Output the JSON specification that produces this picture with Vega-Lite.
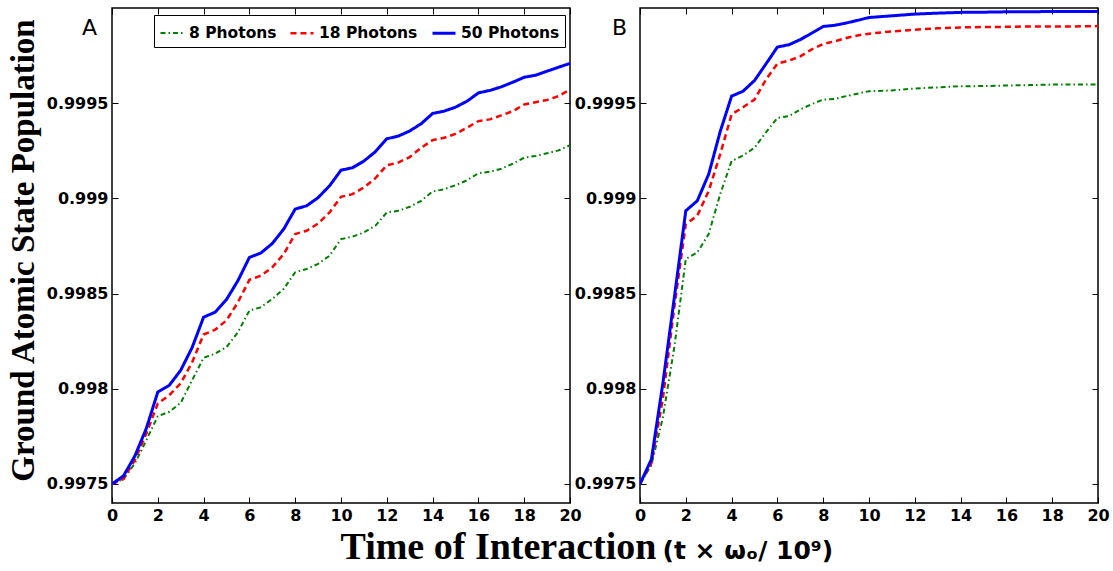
{
  "$schema": "https://vega.github.io/schema/vega-lite/v6.json",
  "background": "white",
  "padding": {"left": 6, "top": 6, "right": 5, "bottom": 5},
  "spacing": 70,
  "bounds": "flush",
  "config": {
    "font": "DejaVu Sans",
    "view": {"stroke": "black", "strokeWidth": 1.5},
    "axis": {"domain": false, "grid": false, "ticks": true, "tickColor": "black", "tickSize": -6, "tickWidth": 1, "labelFont": "DejaVu Sans", "labelFontWeight": "bold", "labelFontSize": 16, "labelColor": "black", "labelPadding": 10, "labelFlush": false, "labelOverlap": false, "titleColor": "black"}
  },
  "resolve": {"scale": {"color": "independent", "strokeDash": "independent", "strokeWidth": "independent"}},
  "datasets": {
    "A": [
      {"time":0,"pop":0.9975,"series":"8 Photons"},{"time":0.5,"pop":0.997525,"series":"8 Photons"},{"time":1,"pop":0.997608,"series":"8 Photons"},{"time":1.5,"pop":0.99773,"series":"8 Photons"},{"time":2,"pop":0.997856,"series":"8 Photons"},{"time":2.5,"pop":0.997879,"series":"8 Photons"},{"time":3,"pop":0.997926,"series":"8 Photons"},{"time":3.5,"pop":0.998045,"series":"8 Photons"},{"time":4,"pop":0.998163,"series":"8 Photons"},{"time":4.5,"pop":0.998184,"series":"8 Photons"},{"time":5,"pop":0.998219,"series":"8 Photons"},{"time":5.5,"pop":0.998297,"series":"8 Photons"},{"time":6,"pop":0.998411,"series":"8 Photons"},{"time":6.5,"pop":0.998428,"series":"8 Photons"},{"time":7,"pop":0.998472,"series":"8 Photons"},{"time":7.5,"pop":0.998525,"series":"8 Photons"},{"time":8,"pop":0.998612,"series":"8 Photons"},{"time":8.5,"pop":0.998629,"series":"8 Photons"},{"time":9,"pop":0.998656,"series":"8 Photons"},{"time":9.5,"pop":0.998699,"series":"8 Photons"},{"time":10,"pop":0.998786,"series":"8 Photons"},{"time":10.5,"pop":0.998799,"series":"8 Photons"},{"time":11,"pop":0.998821,"series":"8 Photons"},{"time":11.5,"pop":0.998856,"series":"8 Photons"},{"time":12,"pop":0.998926,"series":"8 Photons"},{"time":12.5,"pop":0.998935,"series":"8 Photons"},{"time":13,"pop":0.998956,"series":"8 Photons"},{"time":13.5,"pop":0.998987,"series":"8 Photons"},{"time":14,"pop":0.999036,"series":"8 Photons"},{"time":14.5,"pop":0.999048,"series":"8 Photons"},{"time":15,"pop":0.999069,"series":"8 Photons"},{"time":15.5,"pop":0.999095,"series":"8 Photons"},{"time":16,"pop":0.999132,"series":"8 Photons"},{"time":16.5,"pop":0.99914,"series":"8 Photons"},{"time":17,"pop":0.999156,"series":"8 Photons"},{"time":17.5,"pop":0.999182,"series":"8 Photons"},{"time":18,"pop":0.999214,"series":"8 Photons"},{"time":18.5,"pop":0.999223,"series":"8 Photons"},{"time":19,"pop":0.999237,"series":"8 Photons"},{"time":19.5,"pop":0.999252,"series":"8 Photons"},{"time":20,"pop":0.999279,"series":"8 Photons"},
      {"time":0,"pop":0.9975,"series":"18 Photons"},{"time":0.5,"pop":0.997526,"series":"18 Photons"},{"time":1,"pop":0.997626,"series":"18 Photons"},{"time":1.5,"pop":0.997765,"series":"18 Photons"},{"time":2,"pop":0.997923,"series":"18 Photons"},{"time":2.5,"pop":0.997966,"series":"18 Photons"},{"time":3,"pop":0.998029,"series":"18 Photons"},{"time":3.5,"pop":0.998139,"series":"18 Photons"},{"time":4,"pop":0.998285,"series":"18 Photons"},{"time":4.5,"pop":0.99831,"series":"18 Photons"},{"time":5,"pop":0.998359,"series":"18 Photons"},{"time":5.5,"pop":0.998455,"series":"18 Photons"},{"time":6,"pop":0.998572,"series":"18 Photons"},{"time":6.5,"pop":0.998594,"series":"18 Photons"},{"time":7,"pop":0.998638,"series":"18 Photons"},{"time":7.5,"pop":0.998708,"series":"18 Photons"},{"time":8,"pop":0.998813,"series":"18 Photons"},{"time":8.5,"pop":0.99883,"series":"18 Photons"},{"time":9,"pop":0.998868,"series":"18 Photons"},{"time":9.5,"pop":0.998926,"series":"18 Photons"},{"time":10,"pop":0.999008,"series":"18 Photons"},{"time":10.5,"pop":0.999022,"series":"18 Photons"},{"time":11,"pop":0.999057,"series":"18 Photons"},{"time":11.5,"pop":0.999106,"series":"18 Photons"},{"time":12,"pop":0.999174,"series":"18 Photons"},{"time":12.5,"pop":0.999188,"series":"18 Photons"},{"time":13,"pop":0.999217,"series":"18 Photons"},{"time":13.5,"pop":0.999266,"series":"18 Photons"},{"time":14,"pop":0.999306,"series":"18 Photons"},{"time":14.5,"pop":0.999318,"series":"18 Photons"},{"time":15,"pop":0.999339,"series":"18 Photons"},{"time":15.5,"pop":0.999371,"series":"18 Photons"},{"time":16,"pop":0.999406,"series":"18 Photons"},{"time":16.5,"pop":0.999415,"series":"18 Photons"},{"time":17,"pop":0.999436,"series":"18 Photons"},{"time":17.5,"pop":0.999458,"series":"18 Photons"},{"time":18,"pop":0.999493,"series":"18 Photons"},{"time":18.5,"pop":0.999505,"series":"18 Photons"},{"time":19,"pop":0.999517,"series":"18 Photons"},{"time":19.5,"pop":0.999537,"series":"18 Photons"},{"time":20,"pop":0.999572,"series":"18 Photons"},
      {"time":0,"pop":0.9975,"series":"50 Photons"},{"time":0.5,"pop":0.997542,"series":"50 Photons"},{"time":1,"pop":0.997647,"series":"50 Photons"},{"time":1.5,"pop":0.997792,"series":"50 Photons"},{"time":2,"pop":0.997983,"series":"50 Photons"},{"time":2.5,"pop":0.998018,"series":"50 Photons"},{"time":3,"pop":0.998097,"series":"50 Photons"},{"time":3.5,"pop":0.998217,"series":"50 Photons"},{"time":4,"pop":0.998376,"series":"50 Photons"},{"time":4.5,"pop":0.998402,"series":"50 Photons"},{"time":5,"pop":0.998469,"series":"50 Photons"},{"time":5.5,"pop":0.998568,"series":"50 Photons"},{"time":6,"pop":0.99869,"series":"50 Photons"},{"time":6.5,"pop":0.998713,"series":"50 Photons"},{"time":7,"pop":0.998763,"series":"50 Photons"},{"time":7.5,"pop":0.998839,"series":"50 Photons"},{"time":8,"pop":0.998944,"series":"50 Photons"},{"time":8.5,"pop":0.998961,"series":"50 Photons"},{"time":9,"pop":0.999004,"series":"50 Photons"},{"time":9.5,"pop":0.999066,"series":"50 Photons"},{"time":10,"pop":0.999148,"series":"50 Photons"},{"time":10.5,"pop":0.999161,"series":"50 Photons"},{"time":11,"pop":0.999196,"series":"50 Photons"},{"time":11.5,"pop":0.999245,"series":"50 Photons"},{"time":12,"pop":0.999313,"series":"50 Photons"},{"time":12.5,"pop":0.999327,"series":"50 Photons"},{"time":13,"pop":0.999354,"series":"50 Photons"},{"time":13.5,"pop":0.999392,"series":"50 Photons"},{"time":14,"pop":0.999446,"series":"50 Photons"},{"time":14.5,"pop":0.999458,"series":"50 Photons"},{"time":15,"pop":0.999479,"series":"50 Photons"},{"time":15.5,"pop":0.99951,"series":"50 Photons"},{"time":16,"pop":0.999554,"series":"50 Photons"},{"time":16.5,"pop":0.999567,"series":"50 Photons"},{"time":17,"pop":0.999586,"series":"50 Photons"},{"time":17.5,"pop":0.99961,"series":"50 Photons"},{"time":18,"pop":0.999636,"series":"50 Photons"},{"time":18.5,"pop":0.999647,"series":"50 Photons"},{"time":19,"pop":0.999668,"series":"50 Photons"},{"time":19.5,"pop":0.999689,"series":"50 Photons"},{"time":20,"pop":0.999709,"series":"50 Photons"}
    ],
    "B": [
      {"time":0,"pop":0.9975,"series":"8 Photons"},{"time":0.5,"pop":0.9976,"series":"8 Photons"},{"time":1,"pop":0.99785,"series":"8 Photons"},{"time":1.5,"pop":0.99822,"series":"8 Photons"},{"time":2,"pop":0.998682,"series":"8 Photons"},{"time":2.5,"pop":0.998716,"series":"8 Photons"},{"time":3,"pop":0.998813,"series":"8 Photons"},{"time":3.5,"pop":0.999022,"series":"8 Photons"},{"time":4,"pop":0.999196,"series":"8 Photons"},{"time":4.5,"pop":0.999225,"series":"8 Photons"},{"time":5,"pop":0.999266,"series":"8 Photons"},{"time":5.5,"pop":0.999347,"series":"8 Photons"},{"time":6,"pop":0.999423,"series":"8 Photons"},{"time":6.5,"pop":0.999432,"series":"8 Photons"},{"time":7,"pop":0.999467,"series":"8 Photons"},{"time":7.5,"pop":0.999495,"series":"8 Photons"},{"time":8,"pop":0.999519,"series":"8 Photons"},{"time":8.5,"pop":0.999522,"series":"8 Photons"},{"time":9,"pop":0.999537,"series":"8 Photons"},{"time":9.5,"pop":0.99955,"series":"8 Photons"},{"time":10,"pop":0.999563,"series":"8 Photons"},{"time":11,"pop":0.999567,"series":"8 Photons"},{"time":12,"pop":0.999577,"series":"8 Photons"},{"time":13,"pop":0.999583,"series":"8 Photons"},{"time":14,"pop":0.999589,"series":"8 Photons"},{"time":15,"pop":0.99959,"series":"8 Photons"},{"time":16,"pop":0.999593,"series":"8 Photons"},{"time":17,"pop":0.999595,"series":"8 Photons"},{"time":18,"pop":0.999598,"series":"8 Photons"},{"time":19,"pop":0.999598,"series":"8 Photons"},{"time":20,"pop":0.999598,"series":"8 Photons"},
      {"time":0,"pop":0.9975,"series":"18 Photons"},{"time":0.5,"pop":0.99761,"series":"18 Photons"},{"time":1,"pop":0.99795,"series":"18 Photons"},{"time":1.5,"pop":0.99843,"series":"18 Photons"},{"time":2,"pop":0.998865,"series":"18 Photons"},{"time":2.5,"pop":0.998908,"series":"18 Photons"},{"time":3,"pop":0.999039,"series":"18 Photons"},{"time":3.5,"pop":0.999231,"series":"18 Photons"},{"time":4,"pop":0.999441,"series":"18 Photons"},{"time":4.5,"pop":0.999479,"series":"18 Photons"},{"time":5,"pop":0.999519,"series":"18 Photons"},{"time":5.5,"pop":0.999624,"series":"18 Photons"},{"time":6,"pop":0.999708,"series":"18 Photons"},{"time":6.5,"pop":0.999724,"series":"18 Photons"},{"time":7,"pop":0.999746,"series":"18 Photons"},{"time":7.5,"pop":0.999783,"series":"18 Photons"},{"time":8,"pop":0.999811,"series":"18 Photons"},{"time":8.5,"pop":0.999825,"series":"18 Photons"},{"time":9,"pop":0.999842,"series":"18 Photons"},{"time":9.5,"pop":0.999856,"series":"18 Photons"},{"time":10,"pop":0.999865,"series":"18 Photons"},{"time":11,"pop":0.999877,"series":"18 Photons"},{"time":12,"pop":0.999886,"series":"18 Photons"},{"time":13,"pop":0.999893,"series":"18 Photons"},{"time":14,"pop":0.999898,"series":"18 Photons"},{"time":15,"pop":0.9999,"series":"18 Photons"},{"time":16,"pop":0.999901,"series":"18 Photons"},{"time":17,"pop":0.999903,"series":"18 Photons"},{"time":18,"pop":0.999903,"series":"18 Photons"},{"time":19,"pop":0.999903,"series":"18 Photons"},{"time":20,"pop":0.999905,"series":"18 Photons"},
      {"time":0,"pop":0.9975,"series":"50 Photons"},{"time":0.5,"pop":0.99763,"series":"50 Photons"},{"time":1,"pop":0.99803,"series":"50 Photons"},{"time":1.5,"pop":0.99848,"series":"50 Photons"},{"time":2,"pop":0.998935,"series":"50 Photons"},{"time":2.5,"pop":0.998987,"series":"50 Photons"},{"time":3,"pop":0.999127,"series":"50 Photons"},{"time":3.5,"pop":0.99935,"series":"50 Photons"},{"time":4,"pop":0.999537,"series":"50 Photons"},{"time":4.5,"pop":0.999563,"series":"50 Photons"},{"time":5,"pop":0.999619,"series":"50 Photons"},{"time":5.5,"pop":0.999706,"series":"50 Photons"},{"time":6,"pop":0.999795,"series":"50 Photons"},{"time":6.5,"pop":0.999807,"series":"50 Photons"},{"time":7,"pop":0.999834,"series":"50 Photons"},{"time":7.5,"pop":0.999868,"series":"50 Photons"},{"time":8,"pop":0.999903,"series":"50 Photons"},{"time":8.5,"pop":0.999909,"series":"50 Photons"},{"time":9,"pop":0.999921,"series":"50 Photons"},{"time":9.5,"pop":0.999935,"series":"50 Photons"},{"time":10,"pop":0.99995,"series":"50 Photons"},{"time":11,"pop":0.999959,"series":"50 Photons"},{"time":12,"pop":0.999968,"series":"50 Photons"},{"time":13,"pop":0.999973,"series":"50 Photons"},{"time":14,"pop":0.999977,"series":"50 Photons"},{"time":15,"pop":0.999978,"series":"50 Photons"},{"time":16,"pop":0.99998,"series":"50 Photons"},{"time":17,"pop":0.99998,"series":"50 Photons"},{"time":18,"pop":0.999982,"series":"50 Photons"},{"time":19,"pop":0.999982,"series":"50 Photons"},{"time":20,"pop":0.999982,"series":"50 Photons"}
    ]
  },
  "hconcat": [
    {
      "width": 458, "height": 495,
      "data": {"name": "A"},
      "title": {"text": "A", "anchor": "start", "frame": "group", "orient": "top", "dx": -30, "dy": 36, "font": "DejaVu Sans", "fontSize": 22, "fontWeight": "normal", "color": "black"},
      "layer": [
        {
          "transform": [{"filter": "datum.series !== '50 Photons'"}],
          "mark": {"type": "line", "clip": true},
          "encoding": {
            "x": {"field": "time", "type": "quantitative", "scale": {"domain": [0, 20], "nice": false},
              "axis": {"orient": "bottom", "values": [0,2,4,6,8,10,12,14,16,18,20], "format": "d", "title": "Time of Interaction", "titleFont": "Liberation Serif", "titleFontSize": 38, "titleFontWeight": "bold", "titleX": 228, "titleY": 55, "titleAlign": "left", "titleBaseline": "alphabetic", "titleAngle": 0}},
            "y": {"field": "pop", "type": "quantitative", "scale": {"domain": [0.9974, 1.0], "nice": false, "zero": false},
              "axis": {"orient": "left", "values": [0.9975, 0.998, 0.9985, 0.999, 0.9995], "format": ".4~f", "title": "Ground Atomic State Population", "titleFont": "Liberation Serif", "titleFontSize": 33, "titleFontWeight": "bold", "titleX": -79, "titleY": 242, "titleAngle": -90, "titleAlign": "center", "titleBaseline": "alphabetic"}},
            "color": {"field": "series", "type": "ordinal", "scale": {"domain": ["8 Photons", "18 Photons", "50 Photons"], "range": ["#008000", "#ff0000", "#0000ff"]},
              "legend": {"title": null, "orient": "none", "legendX": 42, "legendY": 7, "direction": "horizontal", "columns": 3, "strokeColor": "black", "fillColor": "white", "padding": 5, "labelFont": "DejaVu Sans", "labelFontWeight": "bold", "labelFontSize": 15.5, "labelColor": "black", "symbolType": "stroke", "symbolSize": 529, "columnPadding": 8, "labelOffset": 4, "cornerRadius": 0, "labelLimit": 0}},
            "strokeDash": {"field": "series", "type": "ordinal", "scale": {"domain": ["8 Photons", "18 Photons", "50 Photons"], "range": [[5, 3, 1.5, 3], [6, 4], [1, 0]]},
              "legend": {"title": null, "orient": "none", "legendX": 42, "legendY": 7, "direction": "horizontal", "columns": 3, "strokeColor": "black", "fillColor": "white", "padding": 5, "labelFont": "DejaVu Sans", "labelFontWeight": "bold", "labelFontSize": 15.5, "labelColor": "black", "symbolType": "stroke", "symbolSize": 529, "columnPadding": 8, "labelOffset": 4, "cornerRadius": 0, "labelLimit": 0}},
            "strokeWidth": {"field": "series", "type": "ordinal", "scale": {"domain": ["8 Photons", "18 Photons", "50 Photons"], "range": [2, 3, 3]},
              "legend": {"title": null, "orient": "none", "legendX": 42, "legendY": 7, "direction": "horizontal", "columns": 3, "strokeColor": "black", "fillColor": "white", "padding": 5, "labelFont": "DejaVu Sans", "labelFontWeight": "bold", "labelFontSize": 15.5, "labelColor": "black", "symbolType": "stroke", "symbolSize": 529, "columnPadding": 8, "labelOffset": 4, "cornerRadius": 0, "labelLimit": 0}}
          }
        },
        {
          "transform": [{"filter": "datum.series === '50 Photons'"}],
          "mark": {"type": "line", "clip": true},
          "encoding": {
            "x": {"field": "time", "type": "quantitative", "scale": {"domain": [0, 20], "nice": false},
              "axis": {"orient": "top", "values": [0,2,4,6,8,10,12,14,16,18,20], "labels": false, "title": null}},
            "y": {"field": "pop", "type": "quantitative", "scale": {"domain": [0.9974, 1.0], "nice": false, "zero": false},
              "axis": {"orient": "right", "values": [0.9975, 0.998, 0.9985, 0.999, 0.9995], "labels": false, "title": null}},
            "color": {"field": "series", "type": "ordinal", "scale": {"domain": ["8 Photons", "18 Photons", "50 Photons"], "range": ["#008000", "#ff0000", "#0000ff"]}},
            "strokeDash": {"field": "series", "type": "ordinal", "scale": {"domain": ["8 Photons", "18 Photons", "50 Photons"], "range": [[5, 3, 1.5, 3], [6, 4], [1, 0]]}},
            "strokeWidth": {"field": "series", "type": "ordinal", "scale": {"domain": ["8 Photons", "18 Photons", "50 Photons"], "range": [2, 3, 3]}}
          }
        }
      ],
      "resolve": {"axis": {"x": "independent", "y": "independent"}}
    },
    {
      "width": 458, "height": 495,
      "data": {"name": "B"},
      "title": {"text": "B", "anchor": "start", "frame": "group", "orient": "top", "dx": -28, "dy": 36, "font": "DejaVu Sans", "fontSize": 22, "fontWeight": "normal", "color": "black"},
      "layer": [
        {
          "transform": [{"filter": "datum.series !== '50 Photons'"}],
          "mark": {"type": "line", "clip": true},
          "encoding": {
            "x": {"field": "time", "type": "quantitative", "scale": {"domain": [0, 20], "nice": false},
              "axis": {"orient": "bottom", "values": [0,2,4,6,8,10,12,14,16,18,20], "format": "d", "title": "(t × ωₒ/ 10⁹)", "titleFont": "DejaVu Sans", "titleFontSize": 25, "titleFontWeight": "bold", "titleX": 22, "titleY": 55, "titleAlign": "left", "titleBaseline": "alphabetic", "titleAngle": 0}},
            "y": {"field": "pop", "type": "quantitative", "scale": {"domain": [0.9974, 1.0], "nice": false, "zero": false},
              "axis": {"orient": "left", "values": [0.9975, 0.998, 0.9985, 0.999, 0.9995], "format": ".4~f", "title": null}},
            "color": {"field": "series", "type": "ordinal", "scale": {"domain": ["8 Photons", "18 Photons", "50 Photons"], "range": ["#008000", "#ff0000", "#0000ff"]}, "legend": null},
            "strokeDash": {"field": "series", "type": "ordinal", "scale": {"domain": ["8 Photons", "18 Photons", "50 Photons"], "range": [[5, 3, 1.5, 3], [6, 4], [1, 0]]}, "legend": null},
            "strokeWidth": {"field": "series", "type": "ordinal", "scale": {"domain": ["8 Photons", "18 Photons", "50 Photons"], "range": [2, 3, 3]}, "legend": null}
          }
        },
        {
          "transform": [{"filter": "datum.series === '50 Photons'"}],
          "mark": {"type": "line", "clip": true},
          "encoding": {
            "x": {"field": "time", "type": "quantitative", "scale": {"domain": [0, 20], "nice": false},
              "axis": {"orient": "top", "values": [0,2,4,6,8,10,12,14,16,18,20], "labels": false, "title": null}},
            "y": {"field": "pop", "type": "quantitative", "scale": {"domain": [0.9974, 1.0], "nice": false, "zero": false},
              "axis": {"orient": "right", "values": [0.9975, 0.998, 0.9985, 0.999, 0.9995], "labels": false, "title": null}},
            "color": {"field": "series", "type": "ordinal", "scale": {"domain": ["8 Photons", "18 Photons", "50 Photons"], "range": ["#008000", "#ff0000", "#0000ff"]}, "legend": null},
            "strokeDash": {"field": "series", "type": "ordinal", "scale": {"domain": ["8 Photons", "18 Photons", "50 Photons"], "range": [[5, 3, 1.5, 3], [6, 4], [1, 0]]}, "legend": null},
            "strokeWidth": {"field": "series", "type": "ordinal", "scale": {"domain": ["8 Photons", "18 Photons", "50 Photons"], "range": [2, 3, 3]}, "legend": null}
          }
        }
      ],
      "resolve": {"axis": {"x": "independent", "y": "independent"}}
    }
  ]
}
